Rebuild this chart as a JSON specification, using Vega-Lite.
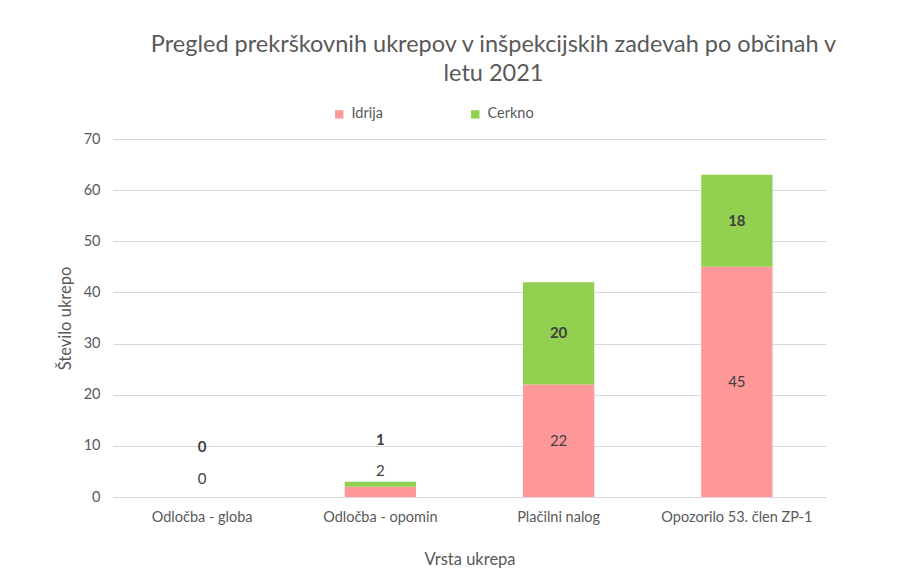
{
  "$schema": "https://vega.github.io/schema/vega-lite/v6.json",
  "width": 713,
  "height": 358,
  "autosize": {"type": "none"},
  "padding": {"left": 113, "top": 139, "right": 75, "bottom": 86},
  "background": "white",
  "config": {
    "font": "Lato",
    "view": {"stroke": null},
    "axis": {
      "labelFont": "Lato",
      "titleFont": "Lato",
      "labelColor": "#595959",
      "titleColor": "#595959",
      "labelFontSize": 14.5,
      "titleFontSize": 16.5,
      "titleFontWeight": "normal",
      "gridColor": "#D9D9D9",
      "domainColor": "#D9D9D9",
      "ticks": false
    }
  },
  "title": {
    "text": ["Pregled prekrškovnih ukrepov v inšpekcijskih zadevah po občinah v", "letu 2021"],
    "font": "Lato",
    "fontSize": 23.5,
    "fontWeight": "normal",
    "color": "#595959",
    "anchor": "middle",
    "lineHeight": 29,
    "offset": 22,
    "dx": 24
  },
  "data": {
    "values": [
      {"Vrsta": "Odločba - globa", "Obcina": "Idrija", "Stevilo": 0},
      {"Vrsta": "Odločba - globa", "Obcina": "Cerkno", "Stevilo": 0},
      {"Vrsta": "Odločba - opomin", "Obcina": "Idrija", "Stevilo": 2},
      {"Vrsta": "Odločba - opomin", "Obcina": "Cerkno", "Stevilo": 1},
      {"Vrsta": "Plačilni nalog", "Obcina": "Idrija", "Stevilo": 22},
      {"Vrsta": "Plačilni nalog", "Obcina": "Cerkno", "Stevilo": 20},
      {"Vrsta": "Opozorilo 53. člen ZP-1", "Obcina": "Idrija", "Stevilo": 45},
      {"Vrsta": "Opozorilo 53. člen ZP-1", "Obcina": "Cerkno", "Stevilo": 18}
    ]
  },
  "transform": [
    {"calculate": "datum.Obcina === 'Idrija' ? 0 : 1", "as": "red"},
    {"joinaggregate": [{"op": "sum", "field": "Stevilo", "as": "total"}], "groupby": ["Vrsta"]},
    {"stack": "Stevilo", "groupby": ["Vrsta"], "sort": [{"field": "red", "order": "ascending"}], "as": ["y0", "y1"]},
    {"calculate": "datum.total < 5 ? datum.total / 2 + (datum.Obcina === 'Idrija' ? 3.5 : 9.7) : (datum.y0 + datum.y1) / 2", "as": "lab"}
  ],
  "layer": [
    {
      "mark": {"type": "bar"},
      "encoding": {
        "x": {
          "field": "Vrsta",
          "type": "nominal",
          "sort": null,
          "scale": {"paddingInner": 0.6, "paddingOuter": 0.3},
          "axis": {"labelAngle": 0, "labelPadding": 13, "title": "Vrsta ukrepa", "titlePadding": 28, "domain": true}
        },
        "y": {
          "field": "y0",
          "type": "quantitative",
          "scale": {"domain": [0, 70]},
          "axis": {"values": [0, 10, 20, 30, 40, 50, 60, 70], "domain": false, "labelPadding": 13, "title": "Število ukrepo", "titlePadding": 10}
        },
        "y2": {"field": "y1"},
        "color": {
          "field": "Obcina",
          "type": "nominal",
          "scale": {"domain": ["Idrija", "Cerkno"], "range": ["#FF9999", "#92D050"]},
          "legend": {
            "title": null,
            "orient": "none",
            "direction": "horizontal",
            "legendX": 219,
            "legendY": -32,
            "symbolType": "square",
            "symbolSize": 70,
            "symbolStrokeWidth": 0,
            "labelFont": "Lato",
            "labelFontSize": 14.5,
            "labelColor": "#595959",
            "labelOffset": 5,
            "columnPadding": 85
          }
        }
      }
    },
    {
      "transform": [{"filter": "datum.Obcina === 'Idrija'"}],
      "mark": {"type": "text", "font": "Lato", "fontSize": 15, "color": "#404040", "baseline": "middle"},
      "encoding": {
        "x": {"field": "Vrsta", "type": "nominal", "sort": null},
        "y": {"field": "lab", "type": "quantitative"},
        "text": {"field": "Stevilo", "type": "quantitative"}
      }
    },
    {
      "transform": [{"filter": "datum.Obcina === 'Cerkno'"}],
      "mark": {"type": "text", "font": "Lato", "fontSize": 15, "fontWeight": "bold", "color": "#404040", "baseline": "middle"},
      "encoding": {
        "x": {"field": "Vrsta", "type": "nominal", "sort": null},
        "y": {"field": "lab", "type": "quantitative"},
        "text": {"field": "Stevilo", "type": "quantitative"}
      }
    }
  ]
}
